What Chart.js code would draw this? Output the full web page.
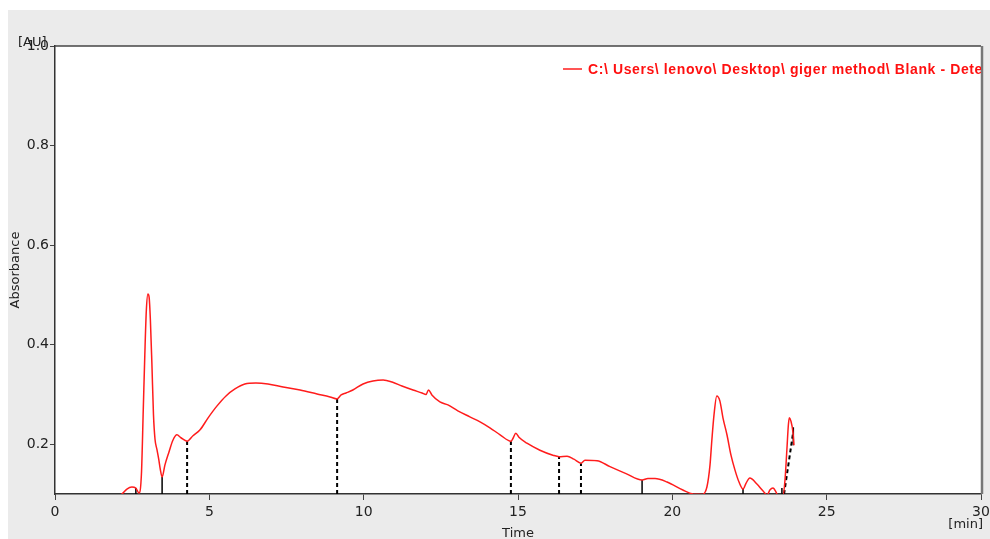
<!DOCTYPE html>
<html>
<head>
<meta charset="utf-8">
<script src="https://cdn.jsdelivr.net/npm/chart.js@4"></script>
<style>
  html, body { margin: 0; padding: 0; background: #ffffff; }
  #wrap { width: 990px; height: 539px; position: relative; }
</style>
</head>
<body>
<div id="wrap"><canvas id="chrom" width="990" height="539"></canvas></div>
<script>
// Chromatogram trace: retention time (min) and absorbance (AU)
const timeMin = [
  1.94, 2.17, 2.33, 2.49, 2.62, 2.72, 2.80, 2.86, 2.91, 2.96, 3.01, 3.05, 3.09, 3.14, 3.19, 3.24, 3.30, 3.36, 3.41,
  3.47, 3.56, 3.69, 3.82, 3.95, 4.08, 4.28, 4.47, 4.70, 4.96, 5.25, 5.54, 5.83, 6.15, 6.51, 6.90,
  7.39, 7.94, 8.49, 8.91, 9.14, 9.27, 9.43, 9.65, 9.98, 10.30, 10.63, 10.92, 11.24, 11.60, 11.89,
  12.02, 12.10, 12.21, 12.47, 12.73, 13.05, 13.44, 13.77, 14.09, 14.42, 14.77, 14.84, 14.93, 15.03,
  15.29, 15.71, 16.13, 16.33, 16.59, 16.81, 17.04, 17.17, 17.56, 17.98, 18.50, 19.02, 19.21, 19.44,
  19.83, 20.34, 20.67, 20.99, 21.12, 21.22, 21.28, 21.35, 21.44, 21.54, 21.64, 21.77, 21.90, 22.03,
  22.16, 22.29, 22.39, 22.51, 22.74, 22.94, 23.07, 23.16, 23.26, 23.36, 23.42, 23.58, 23.65, 23.71,
  23.76, 23.79, 23.84, 23.91, 23.94
];
const absorbance = [
  0.090, 0.100, 0.110, 0.114, 0.112, 0.102, 0.140, 0.270, 0.380, 0.470, 0.502, 0.495, 0.450, 0.360, 0.260, 0.210, 0.190, 0.170, 0.150,
  0.134, 0.158, 0.184, 0.208, 0.219, 0.213, 0.206, 0.217, 0.229, 0.253, 0.277, 0.297, 0.311, 0.321, 0.323, 0.321,
  0.315, 0.309, 0.301, 0.295, 0.291, 0.299, 0.303, 0.309, 0.321, 0.327, 0.329, 0.325, 0.317, 0.309, 0.303,
  0.300, 0.309, 0.299, 0.285, 0.279, 0.267, 0.255, 0.245, 0.233, 0.219, 0.206, 0.212, 0.222, 0.214,
  0.202, 0.188, 0.178, 0.175, 0.176, 0.170, 0.162, 0.168, 0.167, 0.155, 0.141, 0.128, 0.131, 0.131,
  0.124, 0.108, 0.100, 0.099, 0.114, 0.158, 0.208, 0.259, 0.297, 0.287, 0.253, 0.219, 0.178, 0.148,
  0.124, 0.110, 0.122, 0.132, 0.120, 0.106, 0.098, 0.108, 0.112, 0.104, 0.096, 0.096, 0.128, 0.188,
  0.239, 0.253, 0.247, 0.223, 0.198
];

// Peak integration marks: drop lines from the baseline up to the trace
const dropDashedX   = [4.28, 9.14, 14.77, 16.33, 17.04];
const dropDashedTop = [0.206, 0.291, 0.206, 0.175, 0.162];
const dropSolidX    = [2.62, 3.47, 19.02, 22.29, 23.55];
const dropSolidTop  = [0.112, 0.134, 0.128, 0.110, 0.112];
// Skimmed baseline at the last peak and its end mark
const skimFrom = [23.62, 0.100];
const skimTo   = [23.91, 0.222];
const endMarkX = 23.92;
const endMarkY = [0.198, 0.234];

const xTicks = [0, 5, 10, 15, 20, 25, 30];
const yTicks = [0.2, 0.4, 0.6, 0.8, 1.0];
const legendText = 'C:\\ Users\\ lenovo\\ Desktop\\ giger method\\ Blank - Detector A';

const datasets = [{
  label: legendText,
  data: timeMin.map((t, i) => ({ x: t, y: absorbance[i] })),
  borderColor: 'rgb(255,28,28)',
  borderWidth: 1.5,
  pointRadius: 0,
  cubicInterpolationMode: 'monotone',
  order: 0
}];
const markStyle = { borderColor: '#000000', pointRadius: 0, order: 1 };
dropDashedX.forEach((x, i) => datasets.push(Object.assign({
  data: [{ x: x, y: 0.1 }, { x: x, y: dropDashedTop[i] }],
  borderWidth: 2, borderDash: [4, 3]
}, markStyle)));
dropSolidX.forEach((x, i) => datasets.push(Object.assign({
  data: [{ x: x, y: 0.1 }, { x: x, y: dropSolidTop[i] }],
  borderWidth: 1.5
}, markStyle)));
datasets.push(Object.assign({
  data: [{ x: skimFrom[0], y: skimFrom[1] }, { x: skimTo[0], y: skimTo[1] }],
  borderWidth: 2, borderDash: [4, 3]
}, markStyle));
datasets.push(Object.assign({
  data: [{ x: endMarkX, y: endMarkY[0] }, { x: endMarkX, y: endMarkY[1] }],
  borderWidth: 1.5
}, markStyle));

const decorations = {
  id: 'decorations',
  beforeDraw(chart) {
    const c = chart.ctx;
    c.save();
    c.fillStyle = '#ebebeb';
    c.fillRect(8, 10, chart.width - 8, chart.height - 10);
    const a = chart.chartArea;
    c.fillStyle = '#ffffff';
    c.fillRect(a.left, a.top, a.right - a.left, a.bottom - a.top);
    c.restore();
  },
  afterDraw(chart) {
    const c = chart.ctx;
    const a = chart.chartArea;
    c.save();
    // frame on top and right
    c.strokeStyle = '#444444';
    c.lineWidth = 1.5;
    c.beginPath();
    c.moveTo(a.left, a.top);
    c.lineTo(a.right, a.top);
    c.stroke();
    c.strokeStyle = '#777777';
    c.lineWidth = 2.5;
    c.beginPath();
    c.moveTo(a.right + 1, a.top);
    c.lineTo(a.right + 1, a.bottom);
    c.stroke();

    // axis unit labels and titles
    c.fillStyle = '#222222';
    c.font = '13px "DejaVu Sans"';
    c.textAlign = 'left';
    c.textBaseline = 'middle';
    c.fillText('[AU]', 18, a.top - 3);
    c.textAlign = 'right';
    c.fillText('[min]', a.right + 2, a.bottom + 31);
    c.textAlign = 'center';
    c.fillText('Time', 518, a.bottom + 40);
    c.save();
    c.translate(16, 270);
    c.rotate(-Math.PI / 2);
    c.fillText('Absorbance', 0, 0);
    c.restore();

    // legend, clipped at the plot edge
    c.save();
    c.beginPath();
    c.rect(a.left, a.top, a.right - a.left, a.bottom - a.top);
    c.clip();
    c.strokeStyle = 'rgb(255,28,28)';
    c.lineWidth = 1.5;
    c.beginPath();
    c.moveTo(563, 69);
    c.lineTo(582, 69);
    c.stroke();
    c.fillStyle = '#ff1010';
    c.font = 'bold 14px "Liberation Sans"';
    c.letterSpacing = '0.6px';
    c.textAlign = 'left';
    c.textBaseline = 'middle';
    c.fillText(legendText, 588, 70);
    c.restore();
    c.restore();
  }
};

new Chart(document.getElementById('chrom'), {
  type: 'line',
  data: { datasets: datasets },
  options: {
    responsive: false,
    animation: false,
    layout: { padding: { left: 0, top: 46, right: 9, bottom: 0 } },
    plugins: { legend: { display: false }, tooltip: { enabled: false } },
    scales: {
      x: {
        type: 'linear',
        min: 0, max: 30,
        afterBuildTicks: s => { s.ticks = xTicks.map(v => ({ value: v })); },
        afterFit: s => { s.height = 45; s.paddingLeft = 0; s.paddingRight = 0; },
        grid: { drawOnChartArea: false, drawTicks: true, tickLength: 6, color: '#444444' },
        border: { display: true, color: '#333333', width: 1.5 },
        ticks: { color: '#222222', font: { family: 'DejaVu Sans', size: 14 }, padding: 4, maxRotation: 0 }
      },
      y: {
        type: 'linear',
        min: 0.1, max: 1.0,
        afterBuildTicks: s => { s.ticks = yTicks.map(v => ({ value: v })); },
        afterFit: s => { s.width = 55; s.paddingTop = 0; s.paddingBottom = 0; },
        grid: { drawOnChartArea: false, drawTicks: true, tickLength: 5, color: '#444444' },
        border: { display: true, color: '#333333', width: 1.5 },
        ticks: { color: '#222222', font: { family: 'DejaVu Sans', size: 14 }, padding: 1,
                 callback: v => Number(v).toFixed(1) }
      }
    }
  },
  plugins: [decorations]
});
</script>
</body>
</html>
